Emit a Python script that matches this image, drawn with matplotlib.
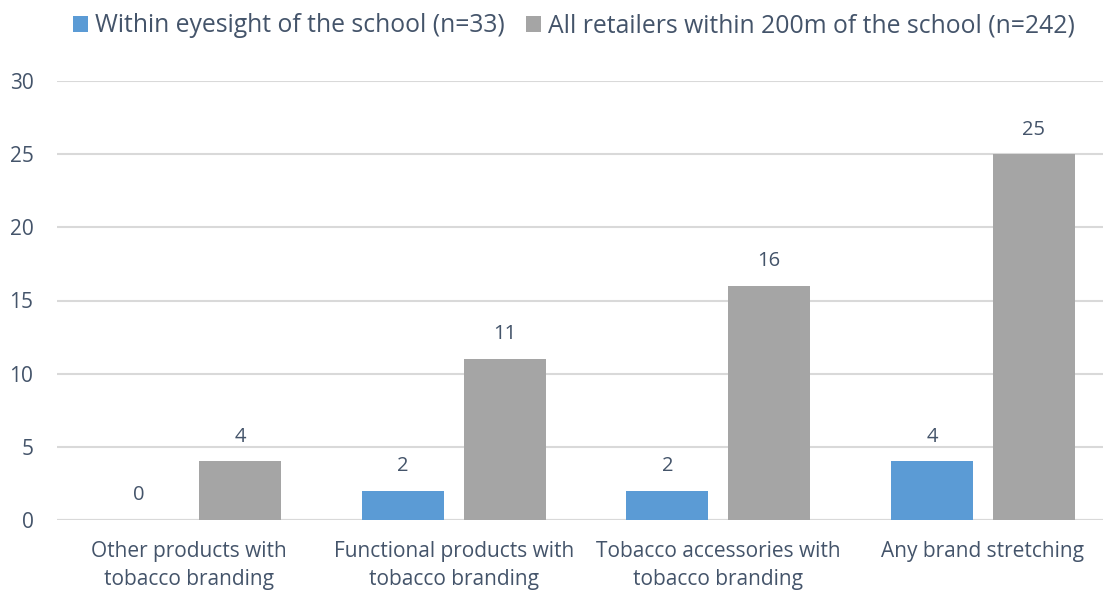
import matplotlib
matplotlib.use("Agg")
import matplotlib.pyplot as plt
import numpy as np

categories = ["Other products with\ntobacco branding",
              "Functional products with\ntobacco branding",
              "Tobacco accessories with\ntobacco branding",
              "Any brand stretching"]
series_names = ["Within eyesight of the school (n=33)",
                "All retailers within 200m of the school (n=242)"]
within_eyesight = [0, 2, 2, 4]
all_retailers = [4, 11, 16, 25]
yticks = [0, 5, 10, 15, 20, 25, 30]

plt.rcParams['font.family'] = ['Open Sans', 'DejaVu Sans']
text_color = "#44546A"
blue = "#5B9BD5"
gray = "#A5A5A5"

fig = plt.figure(figsize=(11.03, 5.90), dpi=100)
ax = fig.add_axes([57/1103, 70/590, (1115-57)/1103, (520-81)/590])

x = np.arange(len(categories))
w = 0.31
off = 0.192
b1 = ax.bar(x - off, within_eyesight, w, color=blue, label=series_names[0], zorder=3)
b2 = ax.bar(x + off, all_retailers, w, color=gray, label=series_names[1], zorder=3)

for bars, vals in ((b1, within_eyesight), (b2, all_retailers)):
    for r, v in zip(bars, vals):
        ax.text(r.get_x() + r.get_width()/2, v + 1.0, f"{v}", ha="center", va="bottom",
                fontsize=14.5, color=text_color)

ax.set_xlim(-0.5, len(categories) - 0.5)
ax.set_ylim(0, 30)
ax.set_yticks(yticks)
ax.set_xticks(x)
ax.set_xticklabels(categories, fontsize=15, color=text_color, linespacing=1.45)
ax.tick_params(axis='y', labelsize=15, labelcolor=text_color, length=0, pad=17)
ax.tick_params(axis='x', length=0, pad=15)
ax.yaxis.grid(True, color="#D9D9D9", linewidth=1.5, zorder=0)
for s in ax.spines.values():
    s.set_visible(False)
ax.axhline(0, color="#D9D9D9", linewidth=1.5, zorder=1)

leg = fig.legend(loc="center", bbox_to_anchor=(574/1103, 1 - 26/590), ncol=2, frameon=False,
                 fontsize=17.8, handlelength=0.6, handleheight=0.6, handletextpad=0.3,
                 columnspacing=0.85, labelcolor=text_color, borderpad=0, borderaxespad=0)

fig.savefig("out.png", dpi=100)
